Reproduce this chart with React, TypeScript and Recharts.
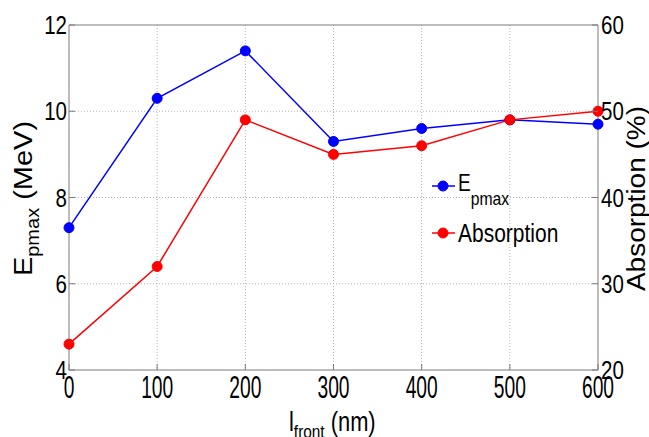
import React from "react";
import { LineChart, Line, XAxis, YAxis, CartesianGrid, ReferenceLine, Label } from "recharts";

const lFront = [0, 100, 200, 300, 400, 500, 600];
const epmax = [7.3, 10.3, 11.4, 9.3, 9.6, 9.8, 9.7];
const absorption = [23, 32, 49, 45, 46, 49, 50];
const xTicks = [0, 100, 200, 300, 400, 500, 600];
const leftTicks = [4, 6, 8, 10, 12];
const rightTicks = [20, 30, 40, 50, 60];

const data = lFront.map((x, i) => ({ x, epmax: epmax[i], absorption: absorption[i] }));

const FONT = "'Liberation Sans', Arial, sans-serif";
const AX = "#7a7a7a";
const BLUE = "#0000ff";
const RED = "#ff0000";

const LeftTick = (props: any) => {
  const { x, y, payload } = props;
  return (
    <g>
      <line x1={x} x2={x + 6} y1={y} y2={y} stroke={AX} />
      <text transform={`translate(${x - 2},${y + 9}) scale(0.82,1)`} textAnchor="end" fontSize={25} fontFamily={FONT} fill="#000">
        {payload.value}
      </text>
    </g>
  );
};

const RightTick = (props: any) => {
  const { x, y, payload } = props;
  return (
    <g>
      <line x1={x} x2={x - 6} y1={y} y2={y} stroke={AX} />
      <text transform={`translate(${x + 3},${y + 9}) scale(0.82,1)`} textAnchor="start" fontSize={25} fontFamily={FONT} fill="#000">
        {payload.value}
      </text>
    </g>
  );
};

const BottomTick = (props: any) => {
  const { x, y, payload } = props;
  return (
    <g>
      <line x1={x} x2={x} y1={y} y2={y - 6} stroke={AX} />
      <text transform={`translate(${x},${y + 28}) scale(0.62,1)`} textAnchor="middle" fontSize={31} fontFamily={FONT} fill="#000">
        {payload.value}
      </text>
    </g>
  );
};

const XLabel = () => (
  <g>
    <text transform="translate(289,431) scale(0.81,1)" fontSize={27} fontFamily={FONT} fill="#000" style={{ whiteSpace: "pre" }}>
      l<tspan dy={7} fontSize={19}>front</tspan>
      <tspan dy={-7} fontSize={27}> (nm)</tspan>
    </text>
    {/* legend */}
    <line x1={432} x2={455} y1={186} y2={186} stroke={BLUE} strokeWidth={1.5} />
    <circle cx={443} cy={186} r={5} fill={BLUE} stroke={BLUE} />
    <text transform="translate(458,191) scale(0.83,1)" fontSize={23} fontFamily={FONT} fill="#000">
      E<tspan dy={14} fontSize={19}>pmax</tspan>
    </text>
    <line x1={432} x2={455} y1={233} y2={233} stroke={RED} strokeWidth={1.5} />
    <circle cx={443} cy={233} r={5} fill={RED} stroke={RED} />
    <text transform="translate(458,242) scale(0.84,1)" fontSize={25} fontFamily={FONT} fill="#000">
      Absorption
    </text>
  </g>
);

const YLeftLabel = () => (
  <text transform="translate(32,198.5) rotate(-90) scale(1,0.9)" textAnchor="middle" fontSize={29} fontFamily={FONT} fill="#000" style={{ whiteSpace: "pre" }}>
    E<tspan dy={8} fontSize={20}>pmax</tspan>
    <tspan dy={-8} fontSize={29}> (MeV)</tspan>
  </text>
);

const YRightLabel = () => (
  <text transform="translate(645,198.5) rotate(-90) scale(1,0.9)" textAnchor="middle" fontSize={28} fontFamily={FONT} fill="#000" style={{ whiteSpace: "pre" }}>
    Absorption (%)
  </text>
);

export default function App() {
  return (
    <div style={{ position: "absolute", left: 0, top: 0, background: "#fff" }}>
      <LineChart width={649} height={437} data={data} margin={{ top: 25, right: 0, bottom: 0, left: 0 }}>
        <CartesianGrid yAxisId="left" stroke="#b5b5b5" strokeDasharray="1 2" horizontalValues={[6, 8, 10]} verticalValues={[100, 200, 300, 400, 500]} />
        <XAxis
          dataKey="x"
          type="number"
          domain={[0, 600]}
          ticks={xTicks}
          interval={0}
          height={67}
          tickSize={0}
          tickMargin={0}
          tick={<BottomTick />}
          axisLine={{ stroke: AX }}
          tickLine={false}
        >
          <Label content={<XLabel />} />
        </XAxis>
        <YAxis
          yAxisId="left"
          orientation="left"
          type="number"
          domain={[4, 12]}
          ticks={leftTicks}
          interval={0}
          width={69}
          tickSize={0}
          tickMargin={0}
          tick={<LeftTick />}
          axisLine={{ stroke: AX }}
          tickLine={false}
        >
          <Label content={<YLeftLabel />} />
        </YAxis>
        <YAxis
          yAxisId="right"
          orientation="right"
          type="number"
          domain={[20, 60]}
          ticks={rightTicks}
          interval={0}
          width={51}
          tickSize={0}
          tickMargin={0}
          tick={<RightTick />}
          axisLine={{ stroke: AX }}
          tickLine={false}
        >
          <Label content={<YRightLabel />} />
        </YAxis>
        <ReferenceLine yAxisId="left" y={12} stroke={AX} />
        <Line
          yAxisId="left"
          dataKey="epmax"
          stroke={BLUE}
          strokeWidth={1.5}
          dot={{ r: 5, fill: BLUE, stroke: BLUE, strokeWidth: 1 }}
          isAnimationActive={false}
        />
        <Line
          yAxisId="right"
          dataKey="absorption"
          stroke={RED}
          strokeWidth={1.5}
          dot={{ r: 5, fill: RED, stroke: RED, strokeWidth: 1 }}
          isAnimationActive={false}
        />
      </LineChart>
    </div>
  );
}
